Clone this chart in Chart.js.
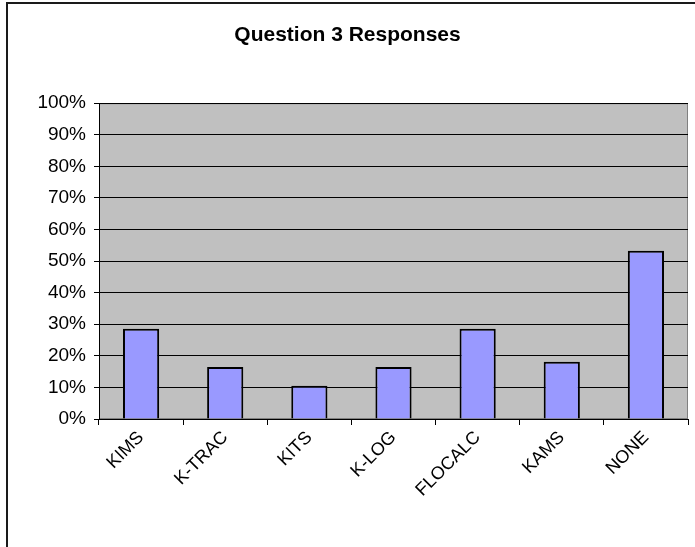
<!DOCTYPE html>
<html>
<head>
<meta charset="utf-8">
<script src="https://cdn.jsdelivr.net/npm/chart.js@4.4.1/dist/chart.umd.min.js"></script>
<style>
  html, body { margin: 0; padding: 0; background: #fff; }
  #wrap { width: 695px; height: 547px; position: relative; }
</style>
</head>
<body>
<div id="wrap"><canvas id="chart" width="695" height="547"></canvas></div>
<script>
var categories = ['KIMS', 'K-TRAC', 'KITS', 'K-LOG', 'FLOCALC', 'KAMS', 'NONE'];
var responses = [28.6, 16.5, 10.5, 16.5, 28.6, 18.1, 53.3];
var tickValues = [0, 10, 20, 30, 40, 50, 60, 70, 80, 90, 100];

var FONT = "'Liberation Sans', Arial, sans-serif";

// outer frame and grey plot background
var frame = {
  id: 'frame',
  beforeDraw: function (chart) {
    var ctx = chart.ctx, a = chart.chartArea;
    ctx.save();
    ctx.fillStyle = '#c0c0c0';
    ctx.fillRect(a.left, a.top, a.right - a.left, a.bottom - a.top);
    ctx.strokeStyle = '#808080';
    ctx.lineWidth = 1;
    ctx.strokeRect(a.left + 0.5, a.top + 0.5, a.right - a.left - 1, a.bottom - a.top - 1);
    ctx.strokeStyle = '#1a1a1a';
    ctx.lineWidth = 2;
    ctx.strokeRect(7, 3, 800, 800);
    ctx.restore();
  }
};

new Chart(document.getElementById('chart'), {
  type: 'bar',
  data: {
    labels: categories,
    datasets: [{
      data: responses,
      backgroundColor: '#9999ff',
      borderColor: '#000',
      borderWidth: 2,
      barPercentage: 0.43,
      categoryPercentage: 1
    }]
  },
  plugins: [frame],
  options: {
    responsive: false,
    animation: false,
    layout: { padding: { left: 7, right: 7, top: 0, bottom: 0 } },
    plugins: {
      legend: { display: false },
      tooltip: { enabled: false },
      title: {
        display: true,
        text: 'Question 3 Responses',
        color: '#000',
        font: { family: FONT, size: 21, weight: 'bold' },
        padding: { top: 23, bottom: 55 }
      }
    },
    scales: {
      x: {
        grid: { display: true, drawOnChartArea: false, color: '#000', tickLength: 6, offset: true },
        border: { color: '#000', width: 1 },
        ticks: {
          color: '#000',
          font: { family: FONT, size: 18 },
          minRotation: 45,
          maxRotation: 45,
          padding: 2
        },
        afterFit: function (s) { s.height = 128; }
      },
      y: {
        min: 0,
        max: 100,
        afterBuildTicks: function (s) {
          s.ticks = tickValues.map(function (v) { return { value: v }; });
        },
        grid: { color: '#000', tickLength: 5, drawTicks: true },
        border: { color: '#000', width: 1 },
        ticks: {
          color: '#000',
          font: { family: FONT, size: 19 },
          padding: 8,
          callback: function (v) { return v + '%'; }
        },
        afterFit: function (s) { s.width = 92; }
      }
    }
  }
});
</script>
</body>
</html>
